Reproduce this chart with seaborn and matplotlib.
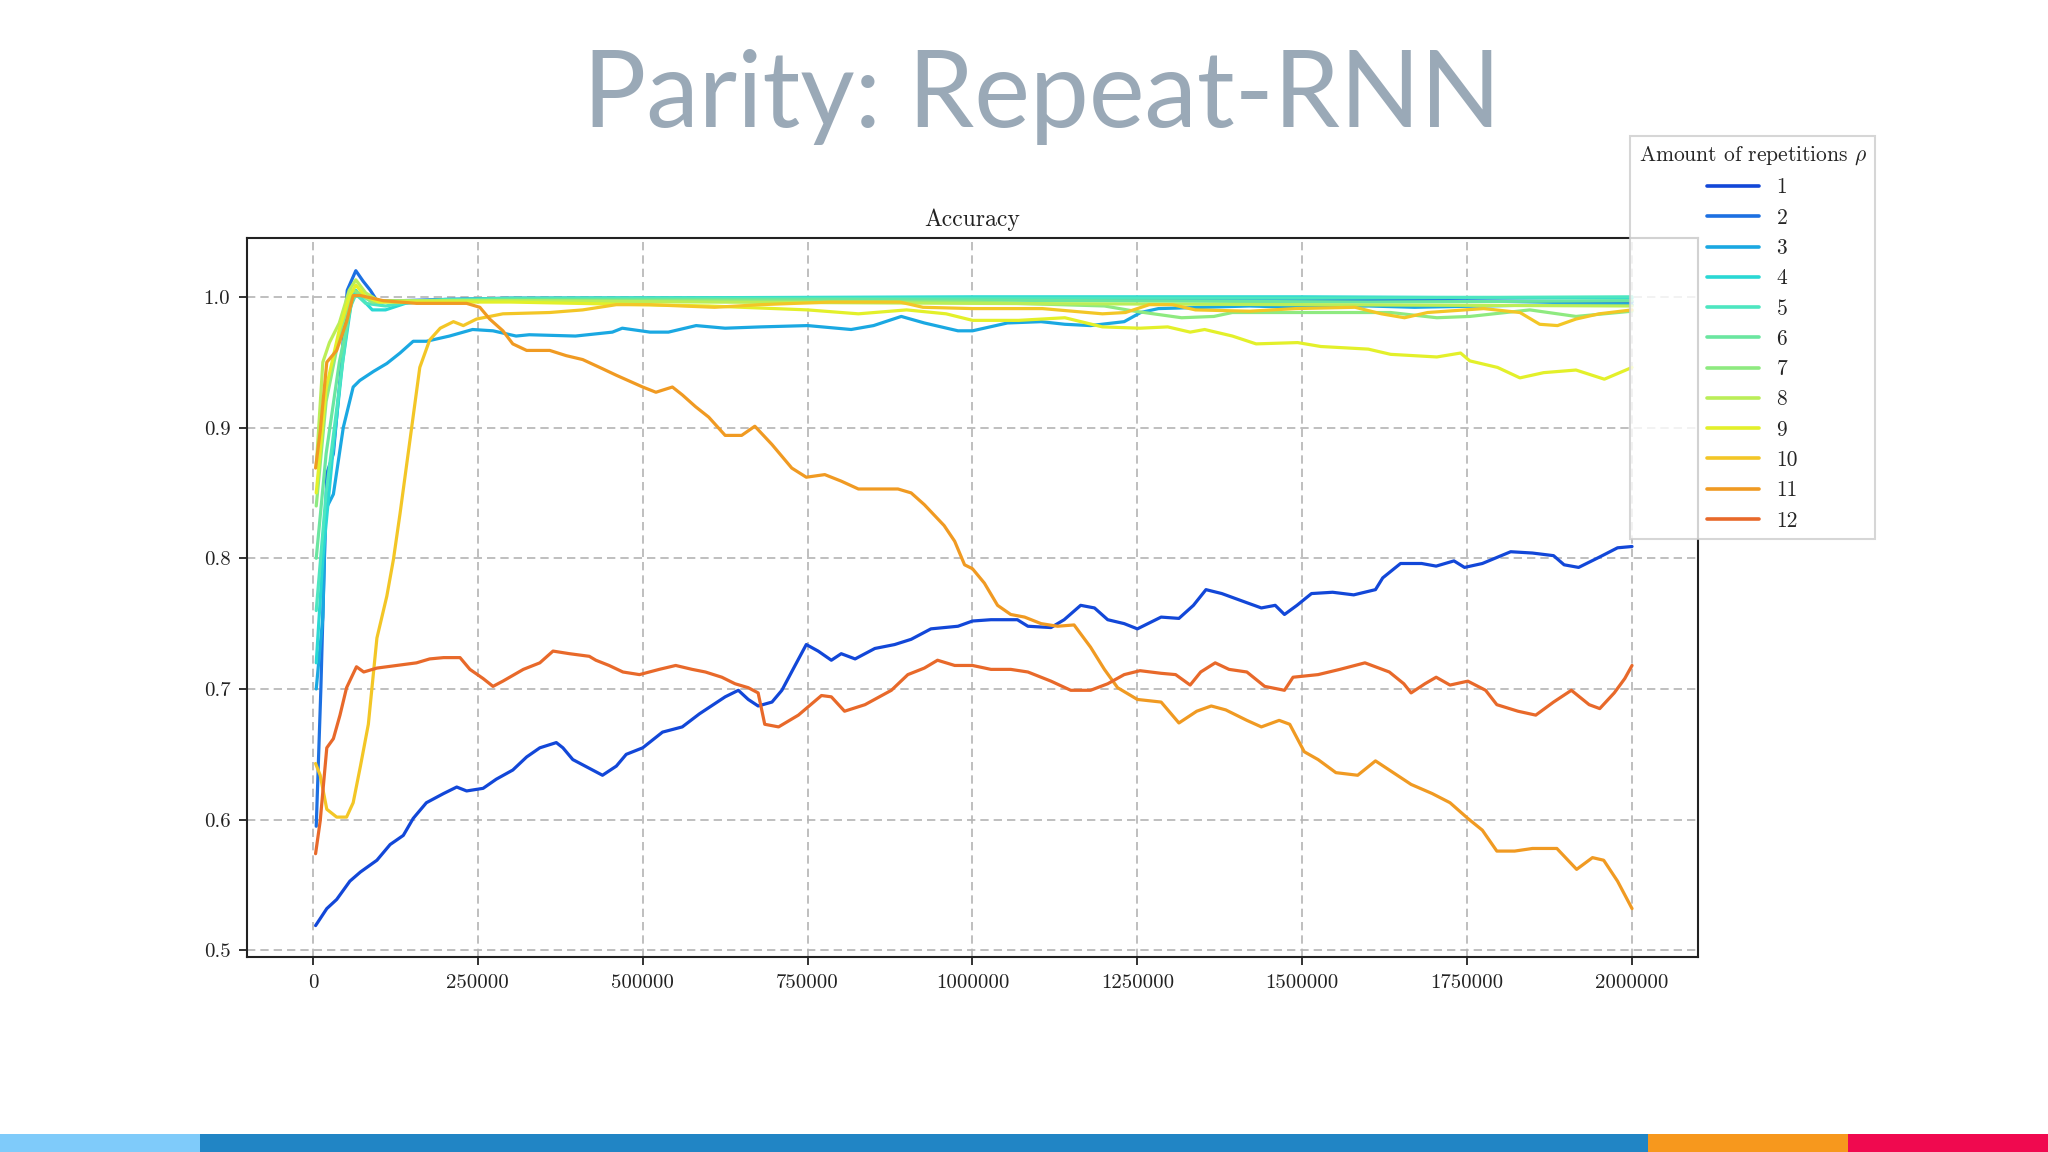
import numpy as np
import pandas as pd
import seaborn as sns
import matplotlib.pyplot as plt
from matplotlib.patches import Rectangle

# training steps (in thousands) and accuracy, one pair per rho
steps_1 = [4, 21, 36, 56, 72, 97, 117, 137, 152, 172, 198, 218, 233, 258, 278, 303, 324, 344, 369, 379,
           394, 424, 439, 460, 475, 500, 530, 560, 586, 625, 645, 660, 675, 696, 711, 731, 748, 766, 786, 801,
           822, 852, 882, 907, 937, 978, 1000, 1028, 1068, 1084, 1119, 1139, 1164, 1185, 1205, 1230, 1250, 1286, 1313, 1335,
           1354, 1378, 1416, 1438, 1459, 1473, 1492, 1514, 1546, 1578, 1611, 1622, 1649, 1681, 1703, 1730, 1746, 1773, 1816, 1849,
           1881, 1897, 1919, 1951, 1978, 2000]
acc_1 = [0.519, 0.532, 0.539, 0.553, 0.560, 0.569, 0.581, 0.588, 0.601, 0.613, 0.620, 0.625, 0.622, 0.624, 0.631, 0.638, 0.648, 0.655, 0.659, 0.655,
         0.646, 0.638, 0.634, 0.641, 0.650, 0.655, 0.667, 0.671, 0.681, 0.694, 0.699, 0.692, 0.687, 0.690, 0.699, 0.718, 0.734, 0.729, 0.722, 0.727,
         0.723, 0.731, 0.734, 0.738, 0.746, 0.748, 0.752, 0.753, 0.753, 0.748, 0.747, 0.753, 0.764, 0.762, 0.753, 0.750, 0.746, 0.755, 0.754, 0.764,
         0.776, 0.773, 0.766, 0.762, 0.764, 0.757, 0.764, 0.773, 0.774, 0.772, 0.776, 0.785, 0.796, 0.796, 0.794, 0.798, 0.793, 0.796, 0.805, 0.804,
         0.802, 0.795, 0.793, 0.801, 0.808, 0.809]

steps_2 = [5, 12, 21, 31, 41, 52, 65, 76, 87, 97, 130, 200, 300, 500, 750, 1000, 1250, 1500, 1750, 2000]
acc_2 = [0.595, 0.70, 0.865, 0.880, 0.936, 1.005, 1.020, 1.012, 1.005, 0.997, 0.997, 0.998, 0.999, 0.999, 0.999, 0.999, 0.998, 0.998, 0.997, 0.996]

steps_3 = [5, 15, 19, 31, 46, 61, 71, 92, 112, 132, 152, 172, 207, 242, 273, 308, 328, 398, 454, 469,
           511, 539, 581, 625, 679, 750, 816, 850, 892, 927, 978, 1000, 1053, 1104, 1140, 1179, 1230, 1255, 1282, 1352,
           1420, 1490, 1600, 1670, 1775, 1880, 2000]
acc_3 = [0.70, 0.755, 0.837, 0.849, 0.900, 0.931, 0.936, 0.943, 0.949, 0.957, 0.966, 0.966, 0.970, 0.975, 0.974, 0.970, 0.971, 0.970, 0.973, 0.976,
         0.973, 0.973, 0.978, 0.976, 0.977, 0.978, 0.975, 0.978, 0.985, 0.980, 0.974, 0.974, 0.980, 0.981, 0.979, 0.978, 0.981, 0.988, 0.991, 0.992,
         0.993, 0.992, 0.993, 0.992, 0.993, 0.994, 0.994]

steps_4 = [5, 15, 30, 45, 58, 65, 75, 90, 110, 140, 200, 400, 1000, 1500, 2000]
acc_4 = [0.72, 0.80, 0.88, 0.95, 0.995, 1.005, 0.998, 0.990, 0.990, 0.995, 0.998, 0.999, 1.0, 1.0, 0.999]

steps_5 = [5, 20, 40, 55, 65, 80, 110, 160, 300, 1000, 1500, 2000]
acc_5 = [0.76, 0.85, 0.93, 0.99, 1.002, 0.995, 0.993, 0.997, 0.999, 0.999, 0.999, 1.0]

steps_6 = [5, 20, 40, 60, 70, 90, 150, 300, 800, 1200, 1600, 2000]
acc_6 = [0.80, 0.88, 0.95, 0.999, 1.002, 0.996, 0.997, 0.998, 0.998, 0.997, 0.996, 0.997]

steps_7 = [5, 20, 40, 60, 70, 90, 200, 600, 1000, 1200, 1246, 1317, 1366, 1394, 1490, 1634, 1704, 1754, 1845, 1887,
           1915, 2000]
acc_7 = [0.84, 0.92, 0.97, 1.005, 1.003, 0.996, 0.997, 0.997, 0.996, 0.993, 0.989, 0.984, 0.985, 0.988, 0.988, 0.988, 0.984, 0.985, 0.990, 0.987,
         0.985, 0.989]

steps_8 = [5, 15, 25, 40, 55, 65, 80, 100, 300, 600, 1000, 1500, 2000]
acc_8 = [0.87, 0.95, 0.965, 0.98, 1.005, 1.013, 1.003, 0.997, 0.997, 0.996, 0.995, 0.994, 0.993]

steps_9 = [5, 20, 40, 55, 65, 80, 100, 300, 600, 750, 827, 900, 960, 1000, 1070, 1140, 1197, 1254, 1296, 1330,
           1352, 1394, 1430, 1493, 1528, 1600, 1634, 1704, 1740, 1754, 1796, 1830, 1866, 1915, 1958, 2000]
acc_9 = [0.85, 0.93, 0.975, 1.0, 1.009, 1.0, 0.996, 0.996, 0.993, 0.990, 0.987, 0.990, 0.987, 0.982, 0.982, 0.984, 0.977, 0.976, 0.977, 0.973,
         0.975, 0.970, 0.964, 0.965, 0.962, 0.960, 0.956, 0.954, 0.957, 0.951, 0.946, 0.938, 0.942, 0.944, 0.937, 0.946]

steps_10 = [4, 11, 21, 36, 51, 61, 72, 84, 97, 112, 122, 132, 147, 162, 177, 193, 213, 228, 248, 288,
            359, 409, 460, 510, 609, 679, 784, 890, 925, 1000, 1106, 1197, 1232, 1268, 1303, 1338, 1420, 1490, 1580, 1620,
            1655, 1690, 1775, 1830, 1860, 1887, 1915, 1950, 2000]
acc_10 = [0.643, 0.634, 0.608, 0.602, 0.602, 0.613, 0.641, 0.673, 0.739, 0.771, 0.799, 0.834, 0.890, 0.946, 0.967, 0.976, 0.981, 0.978, 0.983, 0.987,
          0.988, 0.990, 0.994, 0.994, 0.992, 0.994, 0.996, 0.996, 0.992, 0.991, 0.991, 0.987, 0.988, 0.994, 0.994, 0.990, 0.989, 0.991, 0.992, 0.987,
          0.984, 0.988, 0.991, 0.988, 0.979, 0.978, 0.983, 0.987, 0.990]

steps_11 = [4, 11, 21, 36, 51, 61, 72, 107, 157, 208, 233, 253, 268, 288, 303, 324, 359, 384, 409, 439,
            460, 500, 520, 545, 560, 580, 600, 625, 650, 670, 696, 726, 748, 776, 801, 827, 857, 887, 907, 927,
            957, 973, 988, 1000, 1018, 1038, 1058, 1079, 1104, 1129, 1154, 1179, 1200, 1220, 1250, 1286, 1313, 1340, 1362, 1384,
            1416, 1438, 1465, 1481, 1503, 1524, 1551, 1584, 1611, 1632, 1665, 1697, 1724, 1751, 1773, 1795, 1822, 1849, 1886, 1916,
            1940, 1957, 1978, 2000]
acc_11 = [0.869, 0.897, 0.950, 0.959, 0.981, 1.001, 1.001, 0.997, 0.995, 0.995, 0.995, 0.992, 0.983, 0.974, 0.964, 0.959, 0.959, 0.955, 0.952, 0.945,
          0.940, 0.931, 0.927, 0.931, 0.925, 0.916, 0.908, 0.894, 0.894, 0.901, 0.887, 0.869, 0.862, 0.864, 0.859, 0.853, 0.853, 0.853, 0.850, 0.841,
          0.825, 0.813, 0.795, 0.792, 0.781, 0.764, 0.757, 0.755, 0.750, 0.748, 0.749, 0.732, 0.715, 0.701, 0.692, 0.690, 0.674, 0.683, 0.687, 0.684,
          0.676, 0.671, 0.676, 0.673, 0.652, 0.646, 0.636, 0.634, 0.645, 0.638, 0.627, 0.620, 0.613, 0.601, 0.592, 0.576, 0.576, 0.578, 0.578, 0.562,
          0.571, 0.569, 0.553, 0.532]

steps_12 = [4, 11, 21, 31, 41, 51, 66, 77, 97, 127, 157, 177, 198, 223, 238, 258, 273, 288, 319, 344,
            364, 389, 419, 429, 449, 470, 495, 525, 550, 575, 595, 620, 640, 660, 675, 685, 706, 736, 771, 786,
            806, 837, 877, 902, 927, 947, 973, 1000, 1028, 1058, 1084, 1119, 1149, 1179, 1205, 1230, 1254, 1286, 1308, 1330,
            1346, 1368, 1389, 1416, 1443, 1473, 1486, 1524, 1557, 1595, 1632, 1654, 1665, 1686, 1703, 1724, 1751, 1778, 1795, 1827,
            1854, 1881, 1908, 1935, 1951, 1973, 1989, 2000]
acc_12 = [0.574, 0.599, 0.655, 0.662, 0.680, 0.701, 0.717, 0.713, 0.716, 0.718, 0.720, 0.723, 0.724, 0.724, 0.715, 0.708, 0.702, 0.706, 0.715, 0.720,
          0.729, 0.727, 0.725, 0.722, 0.718, 0.713, 0.711, 0.715, 0.718, 0.715, 0.713, 0.709, 0.704, 0.701, 0.697, 0.673, 0.671, 0.680, 0.695, 0.694,
          0.683, 0.688, 0.699, 0.711, 0.716, 0.722, 0.718, 0.718, 0.715, 0.715, 0.713, 0.706, 0.699, 0.699, 0.704, 0.711, 0.714, 0.712, 0.711, 0.703,
          0.713, 0.720, 0.715, 0.713, 0.702, 0.699, 0.709, 0.711, 0.715, 0.720, 0.713, 0.704, 0.697, 0.704, 0.709, 0.703, 0.706, 0.699, 0.688, 0.683,
          0.680, 0.690, 0.699, 0.688, 0.685, 0.697, 0.708, 0.718]

rho_labels = ["1", "2", "3", "4", "5", "6", "7", "8", "9", "10", "11", "12"]
rho_colors = ["#1247d8", "#1c70e2", "#1aa8e2", "#2ad8d4", "#4de6c0", "#6ae6a0", "#8eea80",
              "#bbee58", "#e3f02a", "#f3c626", "#f09a22", "#e8692a"]

x_ticks = [0, 250000, 500000, 750000, 1000000, 1250000, 1500000, 1750000, 2000000]
y_ticks = [0.5, 0.6, 0.7, 0.8, 0.9, 1.0]

all_steps = [steps_1, steps_2, steps_3, steps_4, steps_5, steps_6, steps_7, steps_8, steps_9, steps_10, steps_11, steps_12]
all_acc = [acc_1, acc_2, acc_3, acc_4, acc_5, acc_6, acc_7, acc_8, acc_9, acc_10, acc_11, acc_12]

frames = []
for lab, s, a in zip(rho_labels, all_steps, all_acc):
    frames.append(pd.DataFrame({"step": np.array(s) * 1000, "acc": a, "rho": lab}))
df = pd.concat(frames, ignore_index=True)

sns.set_theme(style="white")
plt.rcParams["font.family"] = ["cmr10", "DejaVu Sans"]
plt.rcParams["mathtext.fontset"] = "cm"
plt.rcParams["axes.formatter.use_mathtext"] = True

fig = plt.figure(figsize=(20.48, 11.52), dpi=100)
fig.patch.set_facecolor("white")
ax = fig.add_axes([0.1206, 0.1693, 0.7085, 0.6241])

sns.lineplot(data=df, x="step", y="acc", hue="rho", hue_order=rho_labels, palette=rho_colors,
             linewidth=2.3, estimator=None, sort=False, ax=ax)

ax.set_xlim(-100000, 2100000)
ax.set_ylim(0.495, 1.045)
ax.set_xticks(x_ticks)
ax.set_xticklabels([str(t) for t in x_ticks])
ax.set_yticks(y_ticks)
ax.set_yticklabels([f"{t:.1f}" for t in y_ticks])
ax.set_xlabel("")
ax.set_ylabel("")
ax.set_axisbelow(True)
ax.grid(True, linestyle=(0, (5, 3)), color="#b4b4b4", linewidth=1.2)
for sp in ax.spines.values():
    sp.set_color("#222222")
    sp.set_linewidth(1.5)
ax.tick_params(axis="both", direction="out", length=6, width=1.3, color="#222222",
               labelsize=15, labelcolor="#222222", left=True, bottom=True, pad=6)
ax.set_title("Accuracy", fontsize=17, pad=9, color="#222222")

handles, labels = ax.get_legend_handles_labels()
leg = ax.legend(handles, labels, title=r"Amount of repetitions $\rho$", loc="upper left",
                bbox_to_anchor=(1630 / 2048, 1 - 136 / 1152), bbox_transform=fig.transFigure,
                fontsize=15.5, title_fontsize=15.5, frameon=True, fancybox=False, edgecolor="#cccccc",
                framealpha=0.8, handlelength=2.4, labelspacing=0.5, borderaxespad=0)
leg.get_frame().set_linewidth(1.5)
for ln in leg.get_lines():
    ln.set_linewidth(2.6)

# slide title
fig.text(0.509, 0.890, "Parity: Repeat-RNN", ha="center", va="baseline", fontsize=76,
         color="#9aa9b7", family="Lato", fontweight="normal")

# coloured strip at the bottom of the slide
strip = [(0, 200, "#7fcbfa"), (200, 1648, "#2185c5"), (1648, 1848, "#f7981d"), (1848, 2048, "#f0094f")]
for x0, x1, c in strip:
    fig.patches.append(Rectangle((x0 / 2048, 0), (x1 - x0) / 2048, 18 / 1152,
                                 transform=fig.transFigure, facecolor=c, edgecolor="none"))

fig.savefig("out.png", dpi=100)
